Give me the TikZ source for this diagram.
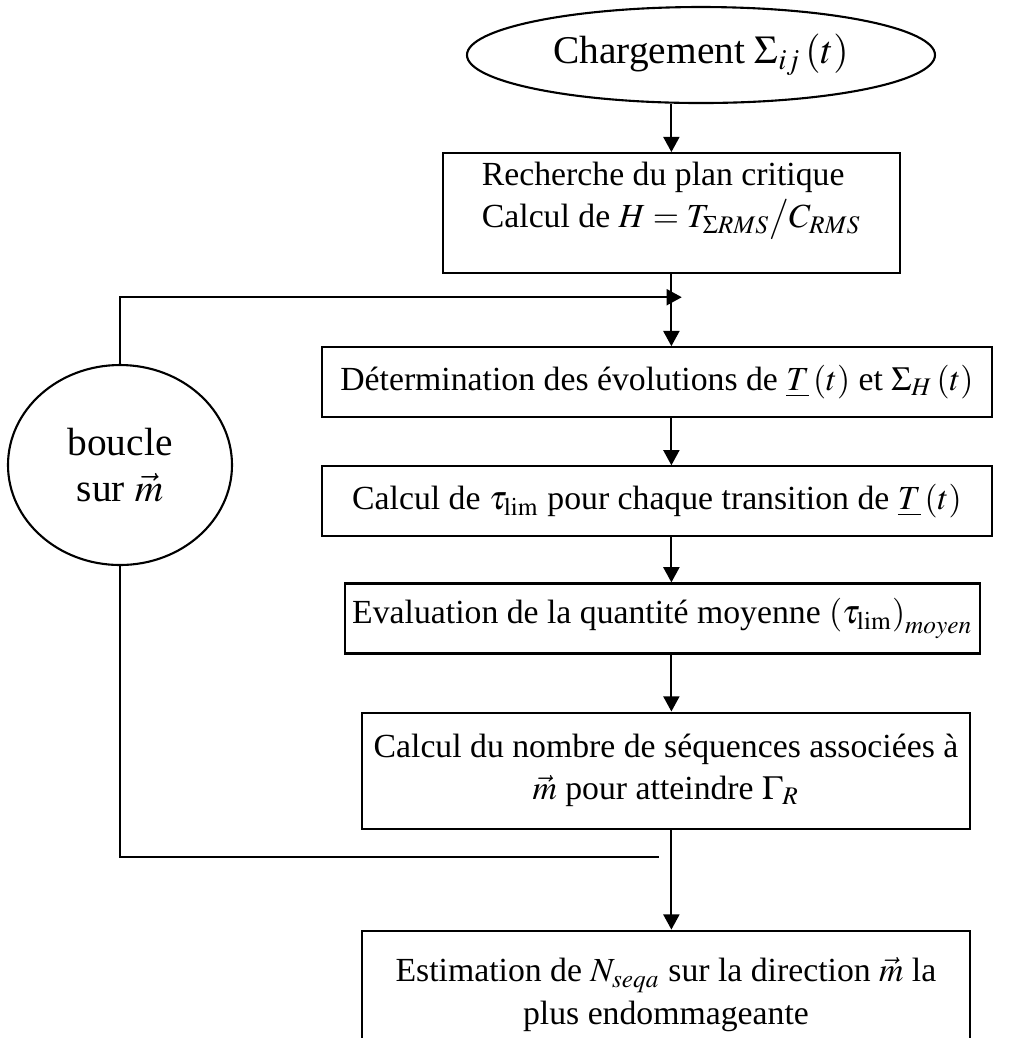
\documentclass[tikz,border=0pt]{standalone}
\usepackage{mathptmx}
\usepackage[no-math]{fontspec}
\setmainfont{Liberation Serif}
\usepackage{xcolor}
\definecolor{mainDark}{HTML}{000000}
\usepackage{tikz}
\usetikzlibrary{shapes,arrows,positioning,calc,arrows.meta,shapes.geometric}
\tikzset{
  stepBox/.style={
    rectangle,
    draw=mainDark,
    line width=0.75pt,
    minimum height=0.875cm,
    inner sep=2pt,
    font=\fontsize{12}{15}\selectfont,
    align=center
 },
  roundBox/.style={
    ellipse,
    draw=mainDark,
    line width=0.75pt,
    inner sep=0pt,
    font=\fontsize{14}{16.5}\selectfont,
    align=center
 },
  arrowLine/.style={
    -{Triangle[length=0.19cm,width=0.2cm]},
    line width=0.75pt,
    color=mainDark
 },
  loopLine/.style={
    line width=0.75pt,
    color=mainDark
 }
}

\begin{document}
\begin{tikzpicture}[node distance=0.6cm]

            \useasboundingbox (0,0) rectangle (12.6,-12.975);

            % Start: loading
            \node[roundBox, minimum width=5.85cm, minimum height=1.2cm] (charge) at (8.7625,-0.6875) {Chargement $\Sigma_{ij}\left(t\right)$};

            % Critical plane
            \node[stepBox, align=left, minimum width=5.7125cm, minimum height=1.5cm, text depth=0.45cm, below=0.6cm of charge, xshift=-0.37cm] (plan) {Recherche du plan critique\\Calcul de $H=T_{\Sigma RMS}\big/C_{RMS}$};

            % Steps inside the loop
            \node[stepBox, minimum width=8.375cm, below=0.9cm of plan, xshift=-0.181cm] (evol) {D\'etermination des \'evolutions de $\underline{T}\left(t\right)$ et $\Sigma_{H}\left(t\right)$};
            \node[stepBox, minimum width=8.375cm, below=0.5875cm of evol] (tauLim) {Calcul de $\tau_{\mathrm{lim}}$ pour chaque transition de $\underline{T}\left(t\right)$};
            \node[stepBox, minimum width=7.9375cm, below=0.5625cm of tauLim, xshift=0.069cm] (moyen) {Evaluation de la quantit\'e moyenne $\left(\tau_{\mathrm{lim}}\right)_{moyen}$};
            \node[stepBox, minimum width=7.6cm, minimum height=1.45cm, below=0.7125cm of moyen, xshift=0.044cm] (nbSeq) {Calcul du nombre de s\'equences associ\'ees \`a\\$\vec{m}$ pour atteindre $\Gamma_{R}$};

            % Result
            \node[stepBox, minimum width=7.6cm, minimum height=1.6cm, below=1.25cm of nbSeq] (estim) {Estimation de $N_{seqa}$ sur la direction $\vec{m}$ la\\plus endommageante};

            % Loop on the directions
            \node[roundBox, minimum width=2.8cm, minimum height=2.5cm] (loop) at (1.5,-5.8125) {boucle\\sur $\vec{m}$};

            \coordinate (loopIn) at ($(plan.south)!0.32!(plan.south |- evol.north) + (0.13,0)$);
            \coordinate (loopOut) at ($(plan.south |- nbSeq.south)!0.27!(plan.south |- estim.north) + (-0.15,0)$);

            % Main arrows
            \draw[arrowLine] (plan.north |- charge.south) -- (plan.north);
            \draw[arrowLine] (plan.south) -- (plan.south |- evol.north);
            \draw[arrowLine] (plan.south |- evol.south) -- (plan.south |- tauLim.north);
            \draw[arrowLine] (plan.south |- tauLim.south) -- (plan.south |- moyen.north);
            \draw[arrowLine] (plan.south |- moyen.south) -- (plan.south |- nbSeq.north);
            \draw[arrowLine] (plan.south |- nbSeq.south) -- (plan.south |- estim.north);

            % Loop back
            \draw[arrowLine] (loop.north) |- (loopIn);
            \draw[loopLine] (loop.south) |- (loopOut);

        \end{tikzpicture}
\end{document}
